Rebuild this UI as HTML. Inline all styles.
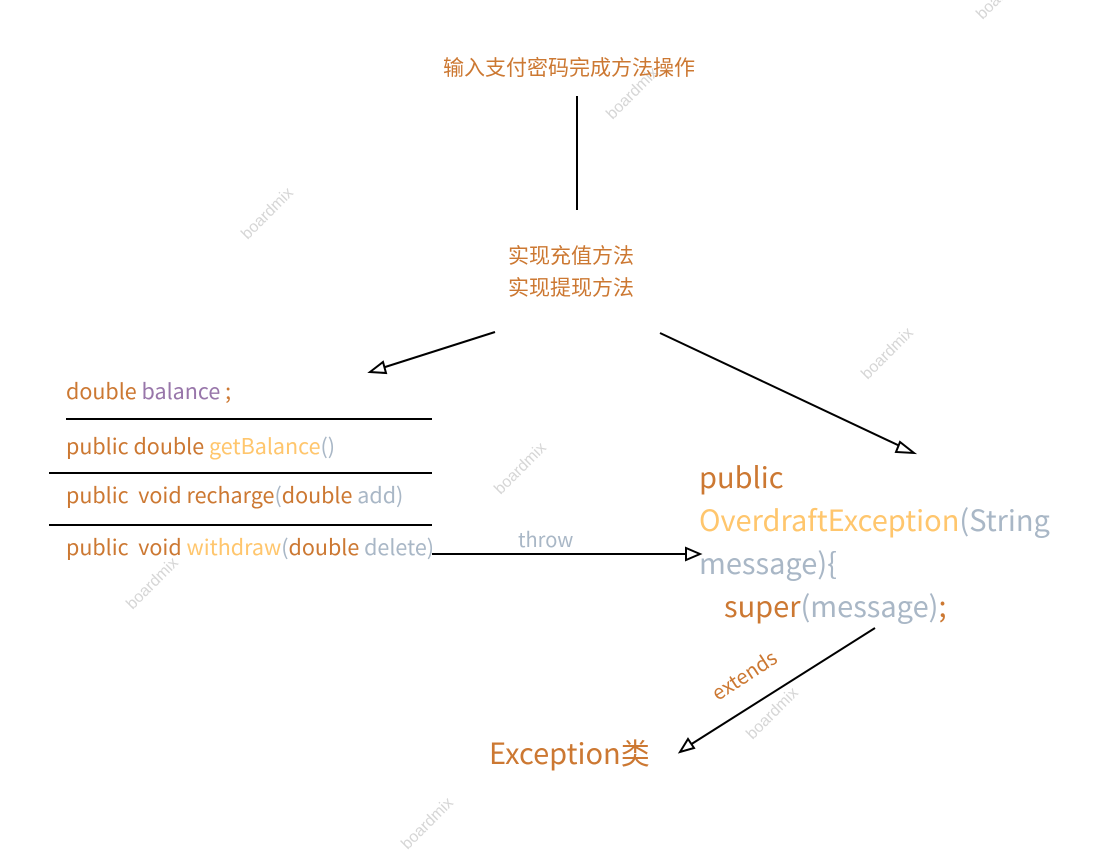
<!DOCTYPE html>
<html><head><meta charset="utf-8"><style>
html,body{margin:0;padding:0;background:#fff;}
body{width:1105px;height:824px;position:relative;overflow:hidden;font-family:"Noto Sans CJK SC","Liberation Sans",sans-serif;}
.t{position:absolute;white-space:nowrap;line-height:1;}
.o{color:#cc7832}.y{color:#ffc66d}.g{color:#a9b7c6}.p{color:#9876aa}
.s{font-size:21.5px}
.b{font-size:29px}
.wm{position:absolute;color:#d6d6d6;font-size:16px;transform:rotate(-45deg);font-family:"Liberation Sans",sans-serif;white-space:nowrap}
</style></head><body>
<div class="wm" style="left:600px;top:85px">boardmix</div>
<div class="wm" style="left:235px;top:205px">boardmix</div>
<div class="wm" style="left:855px;top:345px">boardmix</div>
<div class="wm" style="left:488px;top:460px">boardmix</div>
<div class="wm" style="left:120px;top:575px">boardmix</div>
<div class="wm" style="left:740px;top:705px">boardmix</div>
<div class="wm" style="left:395px;top:815px">boardmix</div>
<div class="wm" style="left:970px;top:-15px">boardmix</div>

<svg width="1105" height="824" style="position:absolute;left:0;top:0">
<g stroke="#000" stroke-width="2" fill="none">
<line x1="577" y1="96" x2="577" y2="210"/>
<line x1="495" y1="332" x2="382" y2="368"/>
<line x1="660" y1="333" x2="902" y2="447"/>
<line x1="432" y1="554" x2="686" y2="554"/>
<line x1="875" y1="628" x2="690" y2="745"/>
<line x1="66" y1="419" x2="432" y2="419"/>
<line x1="49" y1="473" x2="432" y2="473"/>
<line x1="49" y1="525" x2="432" y2="525"/>
</g>
<g stroke="#000" stroke-width="2" fill="#fff" stroke-linejoin="miter">
<polygon points="370,372 383,362 386,373"/>
<polygon points="914,453 900,442 896,452"/>
<polygon points="700,554 686,548 686,560"/>
<polygon points="680,752 688,739 694,748"/>
</g>
</svg>

<div class="t o" style="left:443px;top:57px;font-size:21px">输入支付密码完成方法操作</div>
<div class="t o" style="left:508px;top:245px;font-size:21px">实现充值方法</div>
<div class="t o" style="left:508px;top:277px;font-size:21px">实现提现方法</div>

<div class="t s" style="left:66px;top:380px"><span class="o">double </span><span class="p">balance</span><span class="o"> ;</span></div>
<div class="t s" style="left:66px;top:435px"><span class="o">public double </span><span class="y">getBalance</span><span class="g">()</span></div>
<div class="t s" style="left:66px;top:484px"><span class="o">public&nbsp; void recharge</span><span class="g">(</span><span class="o">double </span><span class="g">add)</span></div>
<div class="t s" style="left:66px;top:536px"><span class="o">public&nbsp; void </span><span class="y">withdraw</span><span class="g">(</span><span class="o">double </span><span class="g">delete)</span></div>

<div class="t g" style="left:518px;top:529px;font-size:20px">throw</div>

<div class="t b" style="left:699px;top:462px"><span class="o">public</span></div>
<div class="t b" style="left:699px;top:505px"><span class="y">OverdraftException</span><span class="g">(String</span></div>
<div class="t b" style="left:699px;top:548px"><span class="g">message){</span></div>
<div class="t b" style="left:724px;top:591px"><span class="o">super</span><span class="g">(message)</span><span class="o">;</span></div>

<div class="t o" style="left:708px;top:686px;font-size:20px;transform:rotate(-33deg);transform-origin:left top">extends</div>

<div class="t o b" style="left:489px;top:738px">Exception类</div>
</body></html>
